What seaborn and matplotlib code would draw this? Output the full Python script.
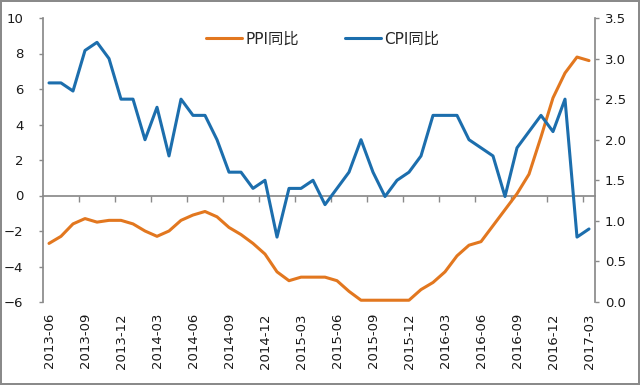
import numpy as np
import pandas as pd
import matplotlib
matplotlib.use("Agg")
import matplotlib.pyplot as plt
import seaborn as sns
from matplotlib.ticker import FormatStrFormatter

months = [
    "2013-06", "2013-07", "2013-08", "2013-09", "2013-10", "2013-11", "2013-12",
    "2014-01", "2014-02", "2014-03", "2014-04", "2014-05", "2014-06",
    "2014-07", "2014-08", "2014-09", "2014-10", "2014-11", "2014-12",
    "2015-01", "2015-02", "2015-03", "2015-04", "2015-05", "2015-06",
    "2015-07", "2015-08", "2015-09", "2015-10", "2015-11", "2015-12",
    "2016-01", "2016-02", "2016-03", "2016-04", "2016-05", "2016-06",
    "2016-07", "2016-08", "2016-09", "2016-10", "2016-11", "2016-12",
    "2017-01", "2017-02", "2017-03",
]
ppi = [
    -2.7, -2.3, -1.6, -1.3, -1.5, -1.4, -1.4,
    -1.6, -2.0, -2.3, -2.0, -1.4, -1.1,
    -0.9, -1.2, -1.8, -2.2, -2.7, -3.3,
    -4.3, -4.8, -4.6, -4.6, -4.6, -4.8,
    -5.4, -5.9, -5.9, -5.9, -5.9, -5.9,
    -5.3, -4.9, -4.3, -3.4, -2.8, -2.6,
    -1.7, -0.8, 0.1, 1.2, 3.3, 5.5,
    6.9, 7.8, 7.6,
]
cpi = [
    2.7, 2.7, 2.6, 3.1, 3.2, 3.0, 2.5,
    2.5, 2.0, 2.4, 1.8, 2.5, 2.3,
    2.3, 2.0, 1.6, 1.6, 1.4, 1.5,
    0.8, 1.4, 1.4, 1.5, 1.2, 1.4,
    1.6, 2.0, 1.6, 1.3, 1.5, 1.6,
    1.8, 2.3, 2.3, 2.3, 2.0, 1.9,
    1.8, 1.3, 1.9, 2.1, 2.3, 2.1,
    2.5, 0.8, 0.9,
]
tick_labels = months[::3]

ORANGE = "#E2771F"
BLUE = "#1C6EAD"
GRAY = "#8a8a8a"
TXT = "#1a1a1a"

sns.set_theme(style="white")
plt.rcParams["font.family"] = ["DejaVu Sans", "Noto Sans CJK SC"]

df = pd.DataFrame({
    "pos": np.arange(len(months)),
    "month": months,
    "PPI同比": ppi,
    "CPI同比": cpi,
})

fig = plt.figure(figsize=(6.4, 3.85), dpi=100, edgecolor=GRAY, linewidth=1.5)
ax = fig.add_axes([43 / 640, 1 - 302 / 385, 552 / 640, 284 / 385])
ax2 = ax.twinx()

sns.lineplot(data=df, x="pos", y="PPI同比", ax=ax, color=ORANGE, lw=2.2, legend=False)
sns.lineplot(data=df, x="pos", y="CPI同比", ax=ax2, color=BLUE, lw=2.2, legend=False)

ax.set_xlim(-0.5, len(months) - 0.5)
ax.set_ylim(-6, 10)
ax.set_yticks(np.arange(-6, 11, 2))
ax2.set_ylim(0, 3.5)
ax2.set_yticks(np.arange(0, 3.51, 0.5))
ax2.yaxis.set_major_formatter(FormatStrFormatter("%.1f"))

ax.set_xticks(df["pos"].to_numpy()[::3])
ax.set_xticklabels(tick_labels, rotation=90)
ax.tick_params(axis="x", length=0, pad=8, labelsize=9.5, labelcolor=TXT)
ax.tick_params(axis="y", direction="out", length=3, width=1, color=GRAY, pad=11,
               labelsize=9.5, labelcolor=TXT, left=True)
ax2.tick_params(axis="y", direction="out", length=3, width=1, color=GRAY, pad=4,
                labelsize=9.5, labelcolor=TXT, right=True)

ax.set_xlabel("")
ax.set_ylabel("")
ax2.set_ylabel("")

for s in ["top", "bottom", "right"]:
    ax.spines[s].set_visible(False)
ax.spines["left"].set_color(GRAY)
for s in ["top", "bottom", "left"]:
    ax2.spines[s].set_visible(False)
ax2.spines["right"].set_color(GRAY)

# category axis line at y = 0 with boundary tick marks
sec = ax.secondary_xaxis(0, transform=ax.transData)
sec.set_alignment("bottom")
sec.set_xticks(np.arange(2.5, len(months) - 0.5, 3))
sec.tick_params(axis="x", direction="out", length=4, width=1, color=GRAY,
                labelbottom=False, labeltop=False)
for s in sec.spines:
    sec.spines[s].set_visible(False)
sec.spines["bottom"].set_visible(True)
sec.spines["bottom"].set_color(GRAY)

handles = [ax.get_lines()[0], ax2.get_lines()[0]]
fig.legend(handles, ["PPI同比", "CPI同比"], loc="center", bbox_to_anchor=(0.504, 0.899),
           ncol=2, frameon=False, fontsize=11, handlelength=2.35, handletextpad=0.25,
           columnspacing=3.0)

fig.savefig("out.png", dpi=100)
